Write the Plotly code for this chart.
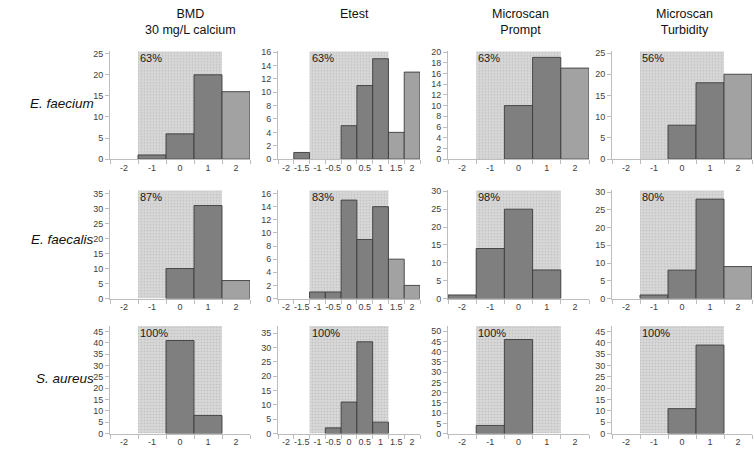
import plotly.graph_objects as go

# ---------------- data ----------------
methods = ["BMD<br>30 mg/L calcium", "Etest", "Microscan<br>Prompt", "Microscan<br>Turbidity"]
organisms = ["E. faecium", "E. faecalis", "S. aureus"]

bins_int = [-2, -1, 0, 1, 2]
bins_half = [-2, -1.5, -1, -0.5, 0, 0.5, 1, 1.5, 2]
labels_int = ["-2", "-1", "0", "1", "2"]
labels_half = ["-2", "-1.5", "-1", "-0.5", "0", "0.5", "1", "1.5", "2"]

faecium_bmd = [0, 1, 6, 20, 16]
faecium_etest = [0, 1, 0, 0, 5, 11, 15, 4, 13]
faecium_prompt = [0, 0, 10, 19, 17]
faecium_turb = [0, 0, 8, 18, 20]

faecalis_bmd = [0, 0, 10, 31, 6]
faecalis_etest = [0, 0, 1, 1, 15, 9, 14, 6, 2]
faecalis_prompt = [1, 14, 25, 8, 0]
faecalis_turb = [0, 1, 8, 28, 9]

aureus_bmd = [0, 0, 41, 8, 0]
aureus_etest = [0, 0, 0, 2, 11, 32, 4, 0, 0]
aureus_prompt = [0, 4, 46, 0, 0]
aureus_turb = [0, 0, 11, 39, 0]

agreement = [
    ["63%", "63%", "63%", "56%"],
    ["87%", "83%", "98%", "80%"],
    ["100%", "100%", "100%", "100%"],
]

panel_counts = [
    [faecium_bmd, faecium_etest, faecium_prompt, faecium_turb],
    [faecalis_bmd, faecalis_etest, faecalis_prompt, faecalis_turb],
    [aureus_bmd, aureus_etest, aureus_prompt, aureus_turb],
]

# essential-agreement half-width (shaded band)
shade_half = [1.5, 1.25, 1.5, 1.5]

# axis settings
y_max = [
    [25.56, 16.1, 20.13, 25.4],
    [36.1, 16.5, 30.3, 30.5],
    [47.4, 37.5, 52.6, 47.4],
]
y_dtick = [
    [5, 2, 2, 5],
    [5, 2, 5, 5],
    [5, 5, 5, 5],
]

# ---------------- layout helpers ----------------
W, H = 754, 454
col_px = [(110, 250), (278, 420), (448, 589), (612, 752)]
row_px = [(48.3, 158.3), (190, 300.5), (328.5, 438.3)]


def fx(p):
    return p / W


def fy(p):
    return 1 - p / H


IN_COLOR = "#7f7f7f"
OUT_COLOR = "#a2a2a2"
EDGE = "#3c3c3c"
AXIS_COLOR = "#bdbdbd"
TICK_FONT = dict(family="Liberation Sans, Arial, sans-serif", size=9, color="#404040")

fig = go.Figure()
layout = dict(
    width=W, height=H,
    margin=dict(l=0, r=0, t=0, b=0),
    paper_bgcolor="white", plot_bgcolor="white",
    showlegend=False, barmode="overlay",
    font=dict(family="Liberation Sans, Arial, sans-serif"),
)
annotations = []

k = 0
for r in range(3):
    for c in range(4):
        k += 1
        xa = "x" if k == 1 else f"x{k}"
        ya = "y" if k == 1 else f"y{k}"
        bins = bins_half if c == 1 else bins_int
        labels = labels_half if c == 1 else labels_int
        step = 0.5 if c == 1 else 1.0
        half = shade_half[c]
        counts = panel_counts[r][c]
        ymax = y_max[r][c]

        # shaded agreement band
        fig.add_trace(go.Bar(
            x=[0], y=[ymax], width=[2 * half], xaxis=xa, yaxis=ya,
            marker=dict(color="#d7d7d7", line=dict(width=0),
                        pattern=dict(shape=".", fgcolor="#a9a9a9", size=3, solidity=0.25)),
            hoverinfo="skip",
        ))

        xs, ys, cols = [], [], []
        for b, v in zip(bins, counts):
            if v > 0:
                xs.append(b)
                ys.append(v)
                cols.append(OUT_COLOR if b > half else IN_COLOR)
        fig.add_trace(go.Bar(
            x=xs, y=ys, width=[step] * len(xs), xaxis=xa, yaxis=ya,
            marker=dict(color=cols, line=dict(color=EDGE, width=0.9)),
        ))

        x0 = bins[0] - step / 2
        x1 = bins[-1] + step / 2
        bounds = [x0 + i * step for i in range(len(bins) + 1)]
        layout["xaxis" if k == 1 else f"xaxis{k}"] = dict(
            domain=[fx(col_px[c][0]), fx(col_px[c][1])],
            anchor=ya, range=[x0, x1],
            tickmode="array", tickvals=bins, ticktext=labels, tickangle=0,
            ticks="", showline=True, linecolor=AXIS_COLOR, linewidth=1,
            showgrid=False, zeroline=False, tickfont=TICK_FONT,
            minor=dict(tickmode="array", tickvals=bounds, ticks="outside",
                       ticklen=4, tickcolor=AXIS_COLOR, showgrid=False),
        )
        layout["yaxis" if k == 1 else f"yaxis{k}"] = dict(
            domain=[fy(row_px[r][1]), fy(row_px[r][0])],
            anchor=xa, range=[0, ymax], tick0=0, dtick=y_dtick[r][c],
            ticks="outside", ticklen=4, tickcolor=AXIS_COLOR,
            showline=True, linecolor=AXIS_COLOR, linewidth=1,
            showgrid=False, zeroline=False, tickfont=TICK_FONT,
        )

        annotations.append(dict(
            text=agreement[r][c], xref=xa, yref=f"{ya} domain",
            x=-half, y=1, xanchor="left", yanchor="top",
            xshift=0, yshift=1, showarrow=False,
            font=dict(size=11, color="#1a1a1a"),
        ))

# column titles
title_cx = [190, 354, 520, 684]
for c, t in enumerate(methods):
    annotations.append(dict(
        text=t, xref="paper", yref="paper", x=fx(title_cx[c]), y=fy(1),
        xanchor="center", yanchor="top", showarrow=False,
        font=dict(size=12.5, color="#111111"),
    ))

# row labels
row_cy = [102, 240, 382]
for r, t in enumerate(organisms):
    annotations.append(dict(
        text=f"<i>{t}</i>", xref="paper", yref="paper", x=fx(96), y=fy(row_cy[r]),
        xanchor="right", yanchor="middle", showarrow=False,
        font=dict(size=13.5, color="#111111"),
    ))

layout["annotations"] = annotations
fig.update_layout(**layout)
fig.write_html("out.html", config={"displayModeBar": False},
               post_script="document.body.style.margin='0px';")
